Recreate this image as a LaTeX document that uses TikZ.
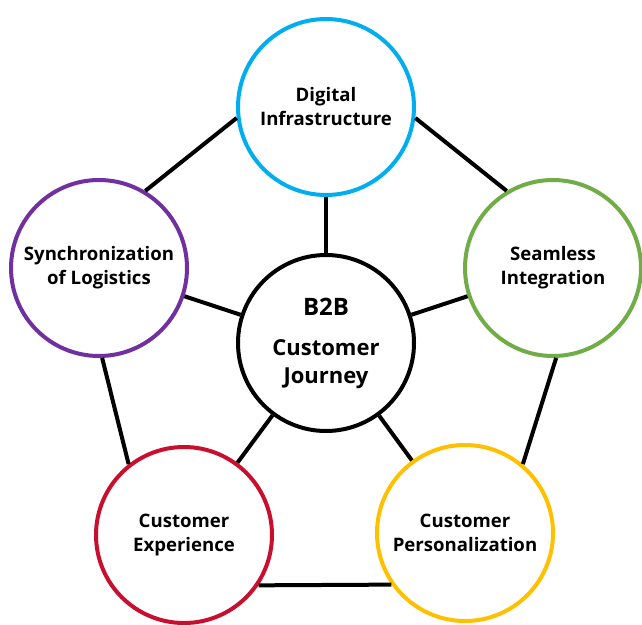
\documentclass[tikz,border=0pt]{standalone}
\usepackage{fontspec}
\setmainfont{Open Sans}
\usepackage{xcolor}
\usetikzlibrary{positioning}

\definecolor{infracyan}{RGB}{0,174,239}
\definecolor{seamgreen}{RGB}{112,173,71}
\definecolor{persyellow}{RGB}{255,192,0}
\definecolor{expred}{RGB}{200,16,46}
\definecolor{logipurple}{RGB}{112,48,160}

\begin{document}
\begin{tikzpicture}[
    x=1pt, y=-1pt,
    topic/.style={draw=#1, circle, line width=4pt, fill=white, minimum size=176pt,
        inner sep=0pt, align=center, font=\bfseries\fontsize{18.6}{24}\selectfont},
    hub/.style={draw, circle, line width=4pt, fill=white, minimum size=176pt,
        inner sep=0pt, align=center, font=\bfseries\fontsize{22}{28}\selectfont},
    link/.style={draw, line width=4pt}
]
    \useasboundingbox (0,0) rectangle (642,624);

    % Centre
    \node[hub] (journey) at (326,343)
        {{\fontsize{24}{28}\selectfont B2B}\\[12pt]Customer\\Journey};

    % Outer circles
    \node[topic=infracyan] (infra) at (326,107) {Digital\\Infrastructure};
    \node[topic=seamgreen] (seam) at (553,268) {Seamless\\Integration};
    \node[topic=persyellow] (pers) at (465,533) {Customer\\Personalization};
    \node[topic=expred] (exper) at (184,535) {Customer\\Experience};
    \node[topic=logipurple] (logi) at (99,268) {Synchronization\\of Logistics};

    % Spokes
    \draw[link] (journey) -- (infra);
    \draw[link] (journey) -- (seam);
    \draw[link] (journey) -- (pers);
    \draw[link] (journey) -- (exper);
    \draw[link] (journey) -- (logi);

    % Ring
    \draw[link] (infra.187) -- (logi.59);
    \draw[link] (infra.-7) -- (seam.121);
    \draw[link] (seam.-88) -- (pers.50);
    \draw[link] (pers.215) -- (exper.-34);
    \draw[link] (exper.128) -- (logi.-88);
\end{tikzpicture}
\end{document}
